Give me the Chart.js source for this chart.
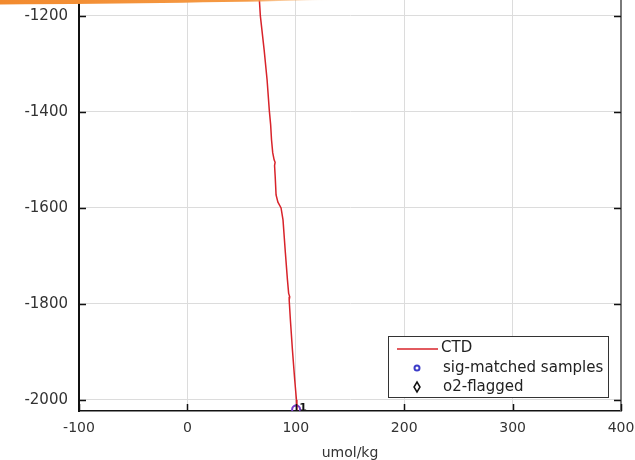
<!DOCTYPE html>
<html>
<head>
<meta charset="utf-8">
<title>Oxygen profile</title>
<script src="https://cdn.jsdelivr.net/npm/chart.js@4.4.1/dist/chart.umd.min.js"></script>
<style>
    html, body { margin: 0; padding: 0; background: #ffffff; }
    #wrap { position: relative; width: 635px; height: 460px; overflow: hidden; }
    /* the plot box runs off the top edge of the page */
    #o2Chart { position: absolute; left: 0; top: -6px; }
    #strip { position: absolute; left: 0; top: 0; width: 335px; height: 5px; pointer-events: none; }
</style>
</head>
<body>
<div id="wrap">
    <canvas id="o2Chart" width="635" height="466"></canvas>
    <canvas id="strip" width="335" height="5"></canvas>
</div>
<script>
// ---- data ----
// CTD oxygen trace (umol/kg) against depth
const ctdO2    = [66.4, 67.3, 70.8, 73.5, 75.6, 76.8, 77.6, 78.7, 80.0, 80.9, 80.4, 81.0, 81.8, 83.5, 86.4, 88.2, 90.4, 92.3, 93.4, 94.4, 93.9, 95.0, 96.9, 99.0, 100.6, 101.0];
const ctdDepth = [-1167, -1200, -1271, -1333, -1398, -1427, -1458, -1485, -1500, -1505, -1512, -1535, -1573, -1588, -1600, -1625, -1694, -1750, -1778, -1785, -1792, -1833, -1896, -1958, -2000, -2021];

// bottle samples matched on density
const sampleO2     = [100.3];
const sampleDepth  = [-2020];
const sampleLabels = ["1"];

// flagged bottles (none in this range)
const flaggedO2    = [];
const flaggedDepth = [];

const xTicks = [-100, 0, 100, 200, 300, 400];
const yTicks = [-2000, -1800, -1600, -1400, -1200];
const xRange = [-100, 400];
const yRange = [-2023, -1167];

const TEXT = "#333333";
const FONT = "'DejaVu Sans', sans-serif";

function toPoints(xs, ys) {
    return xs.map((v, i) => ({ x: v, y: ys[i] }));
}

// inward tick marks, right frame, sample labels, legend box
const framePlugin = {
    id: "frame",
    afterDatasetsDraw(chart) {
        const { ctx, scales: { x, y } } = chart;
        ctx.save();
        ctx.fillStyle = "#111";
        ctx.font = "bold 11px " + FONT;
        ctx.textBaseline = "middle";
        sampleO2.forEach((v, i) => {
            ctx.fillText(sampleLabels[i], x.getPixelForValue(v) + 3, y.getPixelForValue(sampleDepth[i]) - 1);
        });
        ctx.restore();
    },
    afterDraw(chart) {
        const { ctx, chartArea: a, scales: { x, y } } = chart;
        ctx.save();

        // right edge of the box
        ctx.strokeStyle = "#7a7a7a";
        ctx.lineWidth = 2;
        ctx.beginPath();
        ctx.moveTo(a.right, a.top);
        ctx.lineTo(a.right, a.bottom);
        ctx.stroke();

        // ticks pointing into the axes
        ctx.strokeStyle = "#111";
        ctx.lineWidth = 1.5;
        ctx.beginPath();
        yTicks.forEach(v => {
            const py = Math.round(y.getPixelForValue(v)) + 0.5;
            ctx.moveTo(a.left, py); ctx.lineTo(a.left + 7, py);
            ctx.moveTo(a.right - 7, py); ctx.lineTo(a.right, py);
        });
        xTicks.forEach(v => {
            const px = Math.round(x.getPixelForValue(v)) + 0.5;
            ctx.moveTo(px, a.bottom); ctx.lineTo(px, a.bottom - 7);
        });
        ctx.stroke();

        // legend, anchored to the lower right corner of the plot box
        const lw = 220, lh = 61;
        const lx = a.right - 13 - lw, ly = a.bottom - 14 - lh;
        ctx.fillStyle = "#ffffff";
        ctx.fillRect(lx, ly, lw, lh);
        ctx.strokeStyle = "#333";
        ctx.lineWidth = 1;
        ctx.strokeRect(Math.round(lx) + 0.5, Math.round(ly) + 0.5, lw, lh);

        ctx.strokeStyle = "#d8232a";
        ctx.lineWidth = 1.5;
        ctx.beginPath();
        ctx.moveTo(lx + 9, ly + 13);
        ctx.lineTo(lx + 50, ly + 13);
        ctx.stroke();

        ctx.strokeStyle = "#3c3cc8";
        ctx.lineWidth = 2;
        ctx.beginPath();
        ctx.arc(lx + 29, ly + 32, 2.5, 0, Math.PI * 2);
        ctx.stroke();

        ctx.strokeStyle = "#111";
        ctx.lineWidth = 1.5;
        ctx.beginPath();
        ctx.moveTo(lx + 29, ly + 46);
        ctx.lineTo(lx + 32, ly + 51);
        ctx.lineTo(lx + 29, ly + 56);
        ctx.lineTo(lx + 26, ly + 51);
        ctx.closePath();
        ctx.stroke();

        ctx.fillStyle = "#222";
        ctx.font = "15px " + FONT;
        ctx.textBaseline = "middle";
        ctx.textAlign = "left";
        ctx.fillText("CTD", lx + 53, ly + 12);
        ctx.fillText("sig-matched samples", lx + 55, ly + 32);
        ctx.fillText("o2-flagged", lx + 55, ly + 51);

        ctx.restore();
    }
};

// orange header strip across the top left
(function drawStrip() {
    const c = document.getElementById("strip").getContext("2d");
    const g = c.createLinearGradient(0, 0, 330, 0);
    g.addColorStop(0, "#f28a2e");
    g.addColorStop(0.75, "#f59a45");
    g.addColorStop(1, "rgba(248,170,90,0)");
    c.fillStyle = g;
    c.beginPath();
    c.moveTo(0, 0);
    c.lineTo(330, 0);
    c.quadraticCurveTo(200, 3, 0, 4.5);
    c.closePath();
    c.fill();
})();

const ctx = document.getElementById("o2Chart").getContext("2d");

new Chart(ctx, {
    type: "scatter",
    data: {
        datasets: [
            {
                label: "CTD",
                data: toPoints(ctdO2, ctdDepth),
                showLine: true,
                borderColor: "#d8232a",
                borderWidth: 1.5,
                pointRadius: 0,
                tension: 0
            },
            {
                label: "sig-matched samples",
                data: toPoints(sampleO2, sampleDepth),
                pointStyle: "circle",
                pointRadius: 4,
                pointBorderWidth: 2,
                pointBorderColor: "#7a3ccc",
                pointBackgroundColor: "rgba(0,0,0,0)"
            },
            {
                label: "o2-flagged",
                data: toPoints(flaggedO2, flaggedDepth),
                pointStyle: "rectRot",
                pointRadius: 4,
                pointBorderColor: "#111",
                pointBackgroundColor: "rgba(0,0,0,0)"
            }
        ]
    },
    options: {
        responsive: false,
        animation: false,
        layout: { padding: { top: 0, right: 14, left: 0, bottom: 0 } },
        plugins: {
            legend: { display: false },
            tooltip: { enabled: false }
        },
        scales: {
            x: {
                type: "linear",
                min: xRange[0],
                max: xRange[1],
                afterBuildTicks: s => { s.ticks = xTicks.map(v => ({ value: v })); },
                afterFit: s => { s.height = 49; s.paddingLeft = 0; s.paddingRight = 0; },
                grid: { color: "#dcdcdc", lineWidth: 1, drawTicks: false },
                border: { color: "#111", width: 1.5 },
                ticks: {
                    padding: 9,
                    color: TEXT,
                    font: { family: FONT, size: 14 },
                    maxRotation: 0,
                    callback: v => String(v)
                },
                title: {
                    display: true,
                    text: "umol/kg",
                    color: TEXT,
                    font: { family: FONT, size: 14, lineHeight: 1 },
                    padding: { top: 0, bottom: 0 }
                }
            },
            y: {
                type: "linear",
                min: yRange[0],
                max: yRange[1],
                afterBuildTicks: s => { s.ticks = yTicks.map(v => ({ value: v })); },
                afterFit: s => { s.width = 79; s.paddingTop = 0; s.paddingBottom = 0; },
                grid: { color: "#dcdcdc", lineWidth: 1, drawTicks: false },
                border: { color: "#111", width: 2 },
                ticks: {
                    padding: 11,
                    color: TEXT,
                    font: { family: FONT, size: 15 },
                    callback: v => String(v)
                }
            }
        }
    },
    plugins: [framePlugin]
});
</script>
</body>
</html>
